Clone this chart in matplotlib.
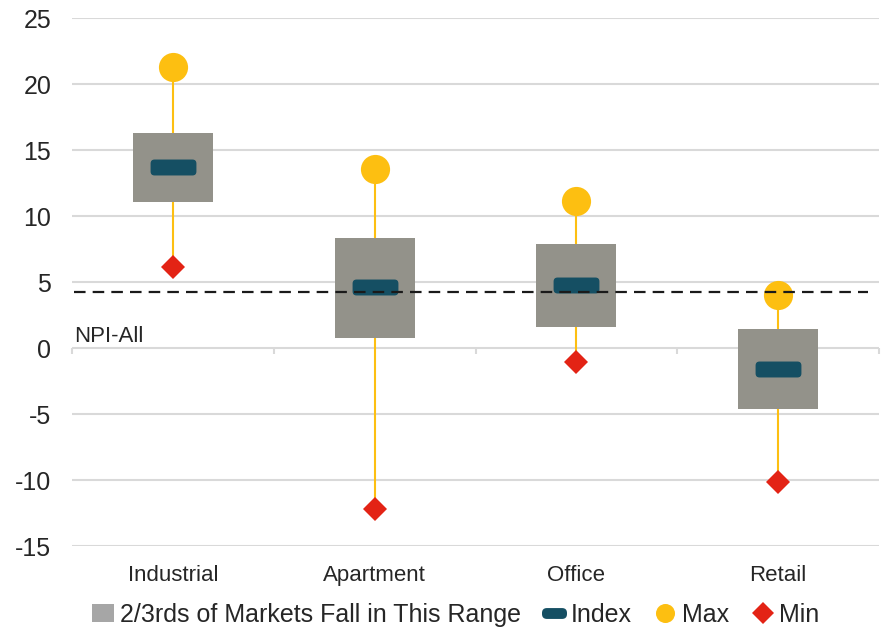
import matplotlib.pyplot as plt
from matplotlib.patches import BoxStyle
from matplotlib.path import Path
from matplotlib.lines import Line2D

categories = ["Industrial", "Apartment", "Office", "Retail"]
range_high = [16.3, 8.35, 7.9, 1.45]
range_low = [11.05, 0.75, 1.6, -4.6]
index_vals = [13.7, 4.6, 4.8, -1.6]
max_vals = [21.3, 13.55, 11.1, 4.0]
min_vals = [6.1, -12.2, -1.05, -10.15]
npi_all = 4.25

BOX_GREY = "#93928a"
TEAL = "#154f63"
GOLD = "#fdbf11"
RED = "#e32315"
GRID = "#d9d9d9"
TEXT = "#262626"

plt.rcParams["font.family"] = ["Liberation Sans", "DejaVu Sans"]
plt.rcParams["text.color"] = TEXT
plt.rcParams["axes.unicode_minus"] = False


def pill(width, height, radius):
    # rounded bar used as the index marker
    return BoxStyle("Round", pad=0, rounding_size=radius)(
        -width / 2, -height / 2, width, height, 1.0)


def rect(width, height):
    w, h = width / 2, height / 2
    return Path([(-w, -h), (w, -h), (w, h), (-w, h), (-w, -h)], closed=True)


fig = plt.figure(figsize=(8.84, 6.29), dpi=100)
ax = fig.add_axes([72 / 884, 83 / 629, 807 / 884, 528 / 629])

x = list(range(len(categories)))

ax.vlines(x, min_vals, max_vals, color=GOLD, lw=1.5, zorder=2)
heights = [h - l for h, l in zip(range_high, range_low)]
ax.bar(x, heights, bottom=range_low, width=0.396, color=BOX_GREY, zorder=3)
ax.plot(x, index_vals, ls="", marker=pill(2.875, 1.0, 0.25), ms=33,
        mew=0, color=TEAL, zorder=4)
ax.plot(x, max_vals, ls="", marker="o", ms=21, mew=0, color=GOLD, zorder=5)
ax.plot(x, min_vals, ls="", marker="D", ms=12.7, mew=0, color=RED, zorder=5)

ax.plot([-0.49, 3.445], [npi_all, npi_all], color="#1a1a1a", lw=1.6,
        dashes=(5.2, 3.2), zorder=6)
ax.text(-0.49, 0.45, "NPI-All", fontsize=16, va="baseline", ha="left")

# category separators hanging off the zero line
ax.vlines([-0.5, 0.5, 1.5, 2.5, 3.5], 0, -0.45, color=GRID, lw=1.5,
          clip_on=False, zorder=1)

ax.set_xlim(-0.5, 3.5)
ax.set_ylim(-15, 25)
ax.set_yticks(range(-15, 30, 5))
ax.set_xticks(x)
ax.set_xticklabels(categories)
ax.grid(axis="y", color=GRID, lw=1.5, zorder=0)
ax.set_axisbelow(True)
for s in ax.spines.values():
    s.set_visible(False)
ax.tick_params(axis="y", length=0, pad=15, labelsize=18, labelcolor=TEXT)
ax.tick_params(axis="x", length=0, pad=14, labelsize=16, labelcolor=TEXT)

handles = [
    Line2D([], [], ls="", marker=rect(1.2, 1.0), ms=15.6, mew=0,
           color="#a6a6a6", label="2/3rds of Markets Fall in This Range"),
    Line2D([], [], ls="", marker=pill(2.3, 1.0, 0.45), ms=18, mew=0,
           color=TEAL, label="Index"),
    Line2D([], [], ls="", marker="o", ms=13.7, mew=0, color=GOLD, label="Max"),
    Line2D([], [], ls="", marker="D", ms=10.7, mew=0, color=RED, label="Min"),
]
fig.legend(handles=handles, loc="center", bbox_to_anchor=(455 / 884, 14 / 629),
           ncol=4, frameon=False, fontsize=18, handlelength=1.0,
           handletextpad=0.15, columnspacing=0.85,
           borderaxespad=0, borderpad=0)

fig.savefig("out.png", dpi=100)
